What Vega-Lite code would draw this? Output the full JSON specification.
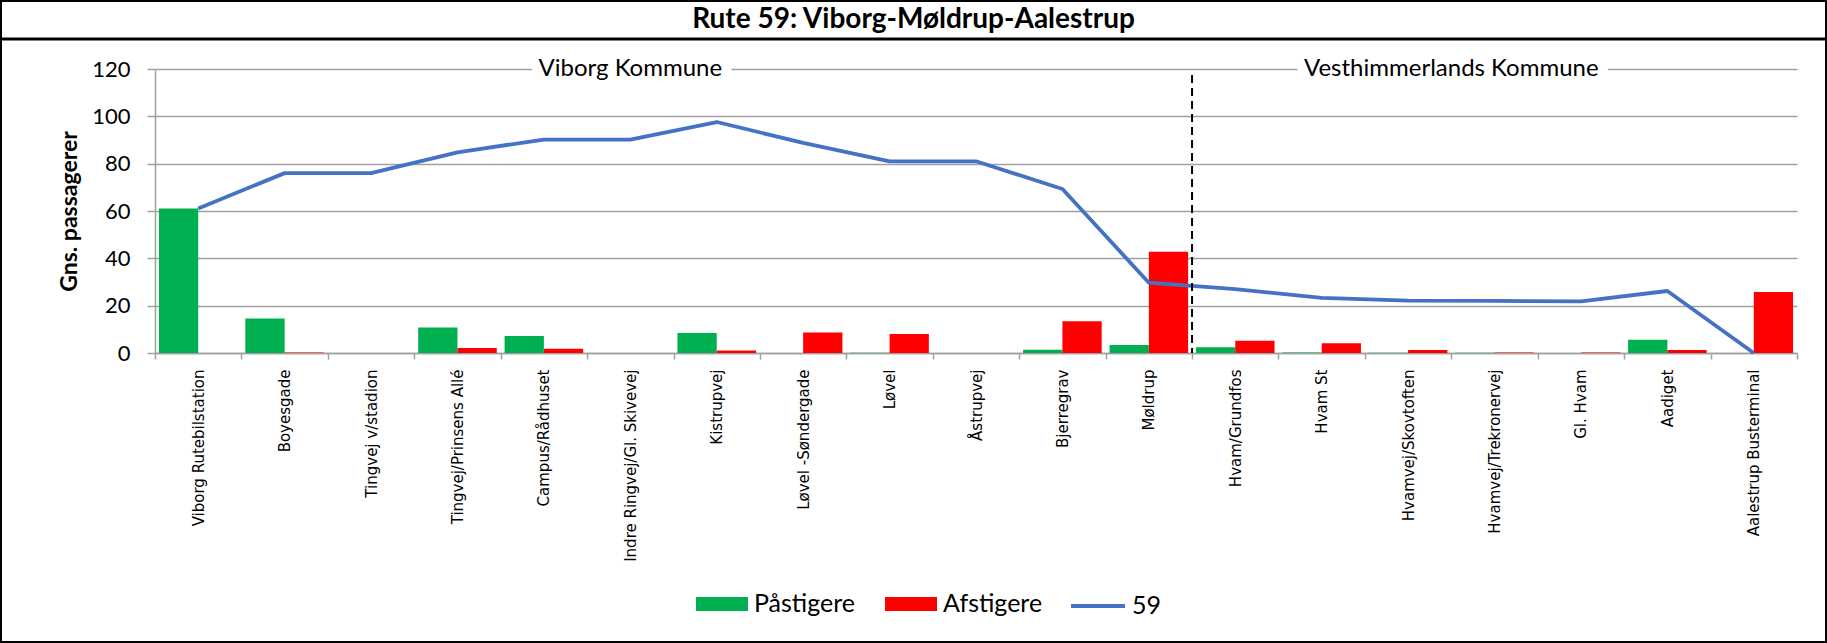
{
  "$schema": "https://vega.github.io/schema/vega-lite/v6.json",
  "width": 1827,
  "height": 643,
  "autosize": "none",
  "padding": 0,
  "background": "white",
  "config": {
    "view": {"stroke": "#000000", "strokeWidth": 4},
    "font": "Lato"
  },
  "datasets": {
    "stops": [
      {"stop": "Viborg Rutebilstation", "Påstigere": 61.1, "Afstigere": 0, "load": 61.1},
      {"stop": "Boyesgade", "Påstigere": 14.6, "Afstigere": 0.2, "load": 76.0},
      {"stop": "Tingvej v/stadion", "Påstigere": 0, "Afstigere": 0, "load": 76.0},
      {"stop": "Tingvej/Prinsens Allé", "Påstigere": 10.8, "Afstigere": 2.1, "load": 84.8},
      {"stop": "Campus/Rådhuset", "Påstigere": 7.2, "Afstigere": 1.8, "load": 90.2},
      {"stop": "Indre Ringvej/Gl. Skivevej", "Påstigere": 0, "Afstigere": 0, "load": 90.2},
      {"stop": "Kistrupvej", "Påstigere": 8.4, "Afstigere": 1.1, "load": 97.6},
      {"stop": "Løvel -Søndergade", "Påstigere": 0, "Afstigere": 8.7, "load": 88.8},
      {"stop": "Løvel", "Påstigere": 0.1, "Afstigere": 8.0, "load": 81.0},
      {"stop": "Åstrupvej", "Påstigere": 0, "Afstigere": 0, "load": 81.0},
      {"stop": "Bjerregrav", "Påstigere": 1.4, "Afstigere": 13.4, "load": 69.3},
      {"stop": "Møldrup", "Påstigere": 3.4, "Afstigere": 42.8, "load": 29.7},
      {"stop": "Hvam/Grundfos", "Påstigere": 2.4, "Afstigere": 5.2, "load": 27.0},
      {"stop": "Hvam St", "Påstigere": 0.2, "Afstigere": 4.1, "load": 23.3},
      {"stop": "Hvamvej/Skovtoften", "Påstigere": 0.1, "Afstigere": 1.3, "load": 22.1},
      {"stop": "Hvamvej/Trekronervej", "Påstigere": 0.1, "Afstigere": 0.2, "load": 22.0},
      {"stop": "Gl. Hvam", "Påstigere": 0, "Afstigere": 0.2, "load": 21.8},
      {"stop": "Aadiget", "Påstigere": 5.6, "Afstigere": 1.3, "load": 26.2},
      {"stop": "Aalestrup Busterminal", "Påstigere": 0, "Afstigere": 25.8, "load": 0}
    ]
  },
  "data": {"name": "stops"},
  "layer": [
    {
      "transform": [{"fold": ["Påstigere", "Afstigere"], "as": ["key", "value"]}],
      "mark": {"type": "bar"},
      "encoding": {
        "x": {
          "field": "stop", "type": "nominal", "title": null,
          "scale": {
            "domain": ["Viborg Rutebilstation", "Boyesgade", "Tingvej v/stadion", "Tingvej/Prinsens Allé", "Campus/Rådhuset", "Indre Ringvej/Gl. Skivevej", "Kistrupvej", "Løvel -Søndergade", "Løvel", "Åstrupvej", "Bjerregrav", "Møldrup", "Hvam/Grundfos", "Hvam St", "Hvamvej/Skovtoften", "Hvamvej/Trekronervej", "Gl. Hvam", "Aadiget", "Aalestrup Busterminal"],
            "range": [155, 1797], "paddingInner": 0, "paddingOuter": 0
          },
          "axis": {
            "orient": "bottom", "offset": -290, "tickBand": "extent", "tickSize": 6,
            "tickColor": "#a0a0a0", "tickWidth": 1.5, "domainColor": "#a0a0a0", "domainWidth": 1.5,
            "labelAngle": -90, "labelFont": "DejaVu Sans", "labelFontSize": 15, "labelColor": "#000000",
            "labelPadding": 10, "labelLimit": 400
          }
        },
        "xOffset": {"field": "key", "type": "nominal", "sort": ["Påstigere", "Afstigere"], "scale": {"paddingInner": 0, "paddingOuter": 0.1}},
        "y": {
          "field": "value", "type": "quantitative", "title": "Gns. passagerer",
          "scale": {"domain": [0, 120], "range": [353, 69], "nice": false},
          "axis": {
            "values": [0, 20, 40, 60, 80, 100, 120], "offset": -155, "grid": true,
            "gridColor": "#a0a0a0", "gridWidth": 1.5, "domainColor": "#a0a0a0", "domainWidth": 1.5,
            "tickColor": "#a0a0a0", "tickWidth": 1.5, "tickSize": 8,
            "labelFont": "Lato", "labelFontSize": 22, "labelColor": "#000000", "labelPadding": 17,
            "titleFont": "Lato", "titleFontSize": 23, "titleFontWeight": "bold", "titleColor": "#000000", "titlePadding": 10
          }
        },
        "color": {
          "field": "key", "type": "nominal",
          "scale": {"domain": ["Påstigere", "Afstigere"], "range": ["#00B050", "#FF0000"]},
          "legend": {
            "orient": "none", "legendX": 696, "legendY": 578, "direction": "horizontal", "title": null,
            "symbolType": "M-1,-0.27H1V0.27H-1Z", "symbolSize": 2704, "symbolStrokeWidth": 0,
            "labelFont": "Lato", "labelFontSize": 25, "labelColor": "#000000", "labelOffset": 6,
            "columnPadding": 29, "padding": 0
          }
        }
      }
    },
    {
      "mark": {"type": "line", "strokeWidth": 3.8, "strokeJoin": "round"},
      "encoding": {
        "x": {"field": "stop", "type": "nominal"},
        "y": {"field": "load", "type": "quantitative", "title": "Gns. passagerer"},
        "stroke": {
          "datum": "59", "type": "nominal",
          "scale": {"domain": ["59"], "range": ["#4472C4"]},
          "legend": {
            "orient": "none", "legendX": 1069, "legendY": 577, "title": null,
            "symbolType": "stroke", "symbolSize": 2916, "symbolStrokeWidth": 4,
            "labelFont": "Lato", "labelFontSize": 25, "labelColor": "#000000", "labelOffset": 5, "padding": 0
          }
        }
      }
    },
    {
      "data": {"values": [{"boundary": "Hvam/Grundfos"}]},
      "mark": {"type": "rule", "color": "#000000", "strokeWidth": 2, "strokeDash": [8, 5]},
      "encoding": {
        "x": {"field": "boundary", "type": "nominal", "bandPosition": 0},
        "y": {"datum": 117.5, "type": "quantitative"},
        "y2": {"datum": 0}
      }
    },
    {
      "data": {"values": [{"label": "Viborg Kommune", "stop": "Indre Ringvej/Gl. Skivevej"}]},
      "mark": {"type": "text", "font": "Lato", "fontSize": 24, "fill": "white", "stroke": "white", "strokeWidth": 20, "strokeJoin": "round"},
      "encoding": {
        "x": {"field": "stop", "type": "nominal"},
        "y": {"datum": 120, "type": "quantitative"},
        "text": {"field": "label"}
      }
    },
    {
      "data": {"values": [{"label": "Viborg Kommune", "stop": "Indre Ringvej/Gl. Skivevej"}]},
      "mark": {"type": "text", "font": "Lato", "fontSize": 24, "color": "#000000"},
      "encoding": {
        "x": {"field": "stop", "type": "nominal"},
        "y": {"datum": 120, "type": "quantitative"},
        "text": {"field": "label"}
      }
    },
    {
      "data": {"values": [{"label": "Vesthimmerlands Kommune", "stop": "Hvamvej/Trekronervej"}]},
      "mark": {"type": "text", "font": "Lato", "fontSize": 24, "fill": "white", "stroke": "white", "strokeWidth": 20, "strokeJoin": "round"},
      "encoding": {
        "x": {"field": "stop", "type": "nominal", "bandPosition": 0},
        "y": {"datum": 120, "type": "quantitative"},
        "text": {"field": "label"}
      }
    },
    {
      "data": {"values": [{"label": "Vesthimmerlands Kommune", "stop": "Hvamvej/Trekronervej"}]},
      "mark": {"type": "text", "font": "Lato", "fontSize": 24, "color": "#000000"},
      "encoding": {
        "x": {"field": "stop", "type": "nominal", "bandPosition": 0},
        "y": {"datum": 120, "type": "quantitative"},
        "text": {"field": "label"}
      }
    },
    {
      "data": {"values": [{"sep": 132.7}]},
      "mark": {"type": "rule", "color": "#000000", "strokeWidth": 3},
      "encoding": {"y": {"field": "sep", "type": "quantitative"}}
    },
    {
      "data": {"values": [{"title": "Rute 59: Viborg-Møldrup-Aalestrup"}]},
      "mark": {"type": "text", "font": "Lato", "fontSize": 28, "fontWeight": "bold", "color": "#000000"},
      "encoding": {
        "y": {"datum": 140.7, "type": "quantitative"},
        "text": {"field": "title"}
      }
    }
  ]
}
